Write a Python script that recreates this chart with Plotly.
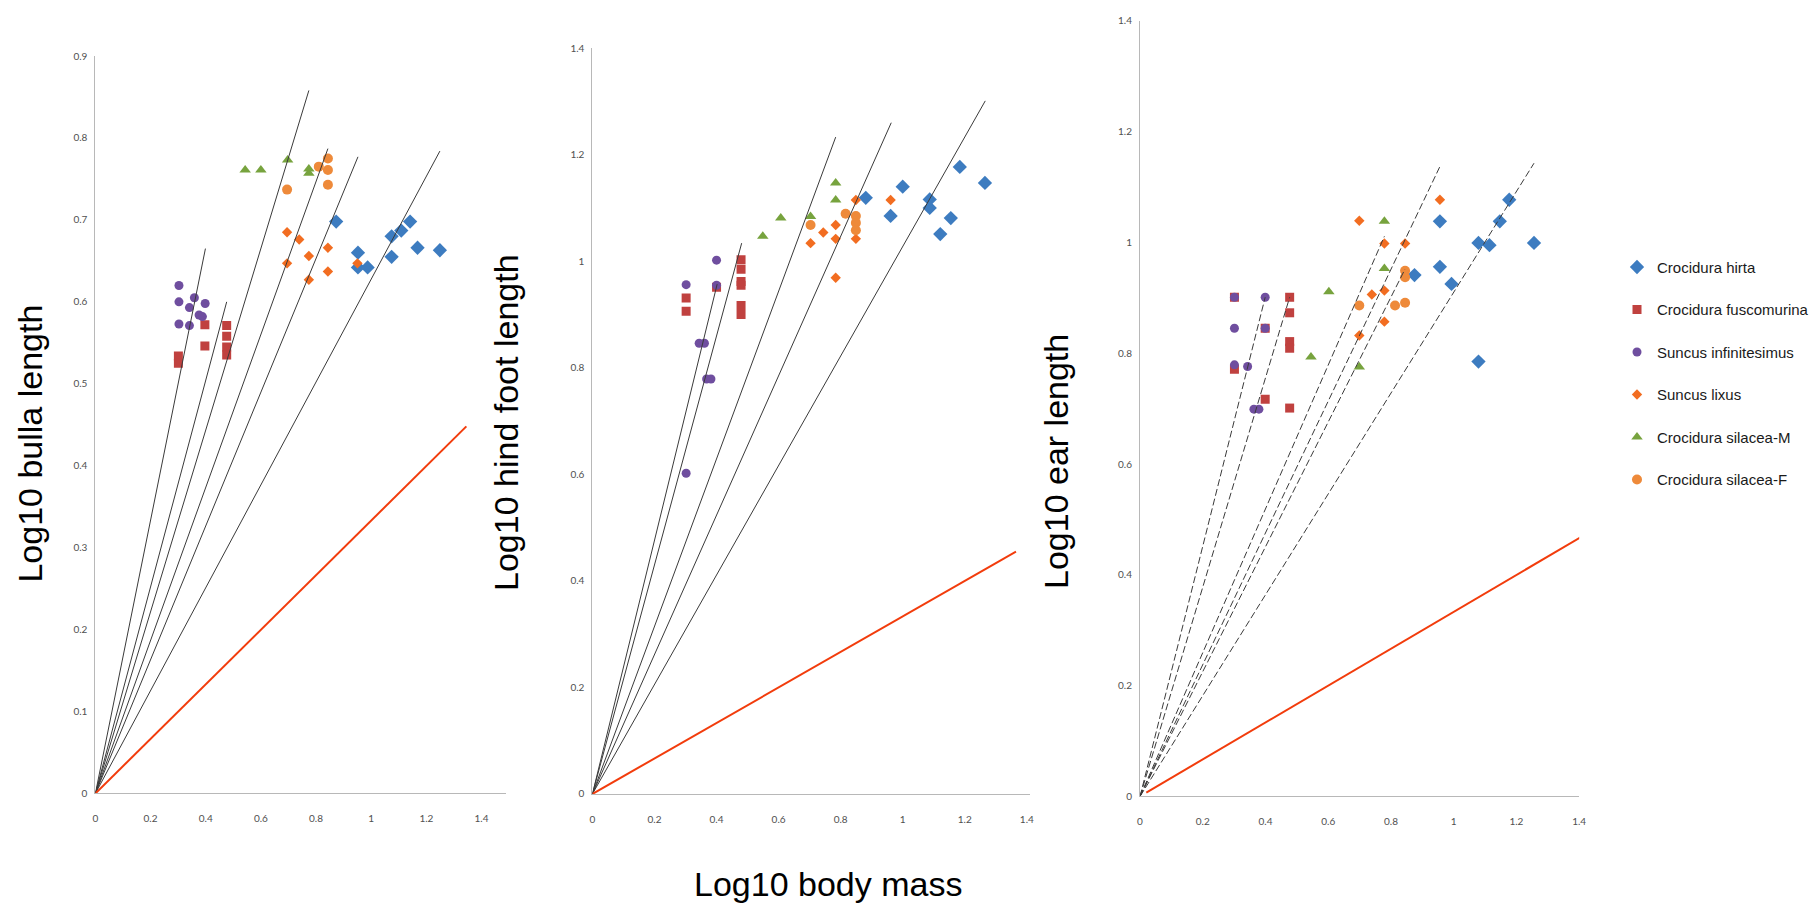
import plotly.graph_objects as go

# ---------------- data ----------------
SPECIES = [
    "Crocidura hirta",
    "Crocidura fuscomurina",
    "Suncus infinitesimus",
    "Suncus lixus",
    "Crocidura silacea-M",
    "Crocidura silacea-F",
]

# Panel 1: log10 bulla length vs log10 body mass
BULLA_HIRTA_X = [0.873, 0.952, 0.952, 0.987, 1.074, 1.074, 1.109, 1.141, 1.168, 1.249]
BULLA_HIRTA_Y = [0.698, 0.660, 0.642, 0.642, 0.680, 0.655, 0.687, 0.698, 0.666, 0.663]
BULLA_FUSCO_X = [0.301, 0.301, 0.397, 0.397, 0.476, 0.476, 0.476, 0.476]
BULLA_FUSCO_Y = [0.534, 0.525, 0.572, 0.546, 0.571, 0.558, 0.545, 0.535]
BULLA_INFIN_X = [0.303, 0.303, 0.303, 0.341, 0.341, 0.359, 0.376, 0.398, 0.388]
BULLA_INFIN_Y = [0.620, 0.600, 0.573, 0.593, 0.571, 0.605, 0.584, 0.598, 0.582]
BULLA_LIXUS_X = [0.695, 0.739, 0.695, 0.774, 0.774, 0.843, 0.843, 0.950]
BULLA_LIXUS_Y = [0.685, 0.676, 0.647, 0.656, 0.627, 0.666, 0.637, 0.647]
BULLA_SILM_X = [0.543, 0.600, 0.697, 0.774, 0.774]
BULLA_SILM_Y = [0.761, 0.761, 0.773, 0.757, 0.762]
BULLA_SILF_X = [0.695, 0.810, 0.843, 0.843, 0.843]
BULLA_SILF_Y = [0.737, 0.765, 0.775, 0.761, 0.743]
BULLA_FIT_END_X = [0.399, 0.476, 0.774, 0.843, 0.952, 1.249]
BULLA_FIT_END_Y = [0.665, 0.600, 0.858, 0.787, 0.777, 0.784]
BULLA_ISO_X = [0.0, 1.345]
BULLA_ISO_Y = [0.0, 0.448]

# Panel 2: log10 hind foot length vs log10 body mass
FOOT_HIRTA_X = [0.881, 0.961, 1.000, 1.087, 1.087, 1.121, 1.155, 1.184, 1.265]
FOOT_HIRTA_Y = [1.119, 1.085, 1.140, 1.116, 1.100, 1.051, 1.081, 1.177, 1.147]
FOOT_FUSCO_X = [0.302, 0.302, 0.400, 0.479, 0.479, 0.479, 0.479, 0.479, 0.479]
FOOT_FUSCO_Y = [0.931, 0.906, 0.951, 1.003, 0.985, 0.962, 0.955, 0.917, 0.900]
FOOT_INFIN_X = [0.302, 0.400, 0.400, 0.344, 0.361, 0.368, 0.382, 0.302]
FOOT_INFIN_Y = [0.956, 1.002, 0.955, 0.846, 0.846, 0.779, 0.779, 0.602]
FOOT_LIXUS_X = [0.703, 0.744, 0.784, 0.784, 0.784, 0.849, 0.849, 0.961]
FOOT_LIXUS_Y = [1.034, 1.054, 1.068, 1.042, 0.969, 1.115, 1.042, 1.115]
FOOT_SILM_X = [0.549, 0.607, 0.703, 0.784, 0.784]
FOOT_SILM_Y = [1.047, 1.081, 1.084, 1.147, 1.115]
FOOT_SILF_X = [0.703, 0.816, 0.849, 0.849, 0.849]
FOOT_SILF_Y = [1.068, 1.089, 1.085, 1.072, 1.058]
FOOT_FIT_END_X = [0.402, 0.481, 0.784, 0.963, 1.266]
FOOT_FIT_END_Y = [0.957, 1.034, 1.233, 1.260, 1.301]
FOOT_ISO_X = [0.0, 1.365]
FOOT_ISO_Y = [0.0, 0.455]

# Panel 3: log10 ear length vs log10 body mass
EAR_HIRTA_X = [0.875, 0.956, 0.956, 0.993, 1.079, 1.079, 1.114, 1.147, 1.177, 1.256]
EAR_HIRTA_Y = [0.941, 1.038, 0.956, 0.925, 0.999, 0.785, 0.995, 1.038, 1.077, 0.999]
EAR_FUSCO_X = [0.301, 0.301, 0.399, 0.399, 0.477, 0.477, 0.477, 0.477, 0.477]
EAR_FUSCO_Y = [0.901, 0.771, 0.845, 0.717, 0.901, 0.873, 0.821, 0.809, 0.701]
EAR_INFIN_X = [0.301, 0.301, 0.301, 0.343, 0.399, 0.399, 0.363, 0.379]
EAR_INFIN_Y = [0.901, 0.845, 0.779, 0.776, 0.901, 0.845, 0.699, 0.699]
EAR_LIXUS_X = [0.699, 0.699, 0.739, 0.779, 0.779, 0.779, 0.845, 0.956]
EAR_LIXUS_Y = [1.039, 0.832, 0.906, 0.998, 0.913, 0.857, 0.998, 1.077]
EAR_SILM_X = [0.545, 0.602, 0.699, 0.779, 0.779]
EAR_SILM_Y = [0.793, 0.911, 0.775, 1.038, 0.953]
EAR_SILF_X = [0.699, 0.813, 0.845, 0.845, 0.845]
EAR_SILF_Y = [0.886, 0.886, 0.949, 0.937, 0.891]
EAR_FIT_END_X = [0.399, 0.477, 0.779, 0.956, 0.845, 1.256]
EAR_FIT_END_Y = [0.901, 0.901, 1.011, 1.137, 0.952, 1.143]
EAR_ISO_X = [0.02, 1.423]
EAR_ISO_Y = [0.007, 0.474]

X_TICKS = [0, 0.2, 0.4, 0.6, 0.8, 1, 1.2, 1.4]
BULLA_Y_TICKS = [0, 0.1, 0.2, 0.3, 0.4, 0.5, 0.6, 0.7, 0.8, 0.9]
FOOT_Y_TICKS = [0, 0.2, 0.4, 0.6, 0.8, 1, 1.2, 1.4]
EAR_Y_TICKS = [0, 0.2, 0.4, 0.6, 0.8, 1, 1.2, 1.4]

# ---------------- styling ----------------
W, H = 1814, 911
STYLE = {
    "Crocidura hirta": dict(symbol="diamond", color="#3d7cc0", size=11),
    "Crocidura fuscomurina": dict(symbol="square", color="#c0413f", size=9),
    "Suncus infinitesimus": dict(symbol="circle", color="#6f4e9f", size=9),
    "Suncus lixus": dict(symbol="diamond", color="#f26d21", size=8),
    "Crocidura silacea-M": dict(symbol="triangle-up", color="#77a33e", size=10),
    "Crocidura silacea-F": dict(symbol="circle", color="#ee8a3a", size=10),
}

panels = [
    dict(
        xa="x", ya="y",
        series=[(BULLA_HIRTA_X, BULLA_HIRTA_Y), (BULLA_FUSCO_X, BULLA_FUSCO_Y),
                (BULLA_INFIN_X, BULLA_INFIN_Y), (BULLA_LIXUS_X, BULLA_LIXUS_Y),
                (BULLA_SILM_X, BULLA_SILM_Y), (BULLA_SILF_X, BULLA_SILF_Y)],
        fit=(BULLA_FIT_END_X, BULLA_FIT_END_Y), iso=(BULLA_ISO_X, BULLA_ISO_Y),
        dash="solid",
    ),
    dict(
        xa="x2", ya="y2",
        series=[(FOOT_HIRTA_X, FOOT_HIRTA_Y), (FOOT_FUSCO_X, FOOT_FUSCO_Y),
                (FOOT_INFIN_X, FOOT_INFIN_Y), (FOOT_LIXUS_X, FOOT_LIXUS_Y),
                (FOOT_SILM_X, FOOT_SILM_Y), (FOOT_SILF_X, FOOT_SILF_Y)],
        fit=(FOOT_FIT_END_X, FOOT_FIT_END_Y), iso=(FOOT_ISO_X, FOOT_ISO_Y),
        dash="solid",
    ),
    dict(
        xa="x3", ya="y3",
        series=[(EAR_HIRTA_X, EAR_HIRTA_Y), (EAR_FUSCO_X, EAR_FUSCO_Y),
                (EAR_INFIN_X, EAR_INFIN_Y), (EAR_LIXUS_X, EAR_LIXUS_Y),
                (EAR_SILM_X, EAR_SILM_Y), (EAR_SILF_X, EAR_SILF_Y)],
        fit=(EAR_FIT_END_X, EAR_FIT_END_Y), iso=(EAR_ISO_X, EAR_ISO_Y),
        dash="7px,3px",
    ),
]

fig = go.Figure()
for pi, p in enumerate(panels):
    for name, (xs, ys) in zip(SPECIES, p["series"]):
        st = STYLE[name]
        fig.add_trace(go.Scatter(
            x=xs, y=ys, mode="markers", name=name,
            legendgroup=name, showlegend=(pi == 0),
            marker=dict(symbol=st["symbol"], color=st["color"], size=st["size"],
                        line=dict(width=0)),
            xaxis=p["xa"], yaxis=p["ya"],
        ))
    # species regression lines through the origin
    for ex, ey in zip(*p["fit"]):
        fig.add_trace(go.Scatter(
            x=[0, ex], y=[0, ey], mode="lines", showlegend=False,
            line=dict(color="#3a3a3a", width=1, dash=p["dash"]),
            xaxis=p["xa"], yaxis=p["ya"], hoverinfo="skip",
        ))
    # isometric reference line
    ix, iy = p["iso"]
    fig.add_trace(go.Scatter(
        x=ix, y=iy, mode="lines", showlegend=False,
        line=dict(color="#f23c0c", width=2),
        xaxis=p["xa"], yaxis=p["ya"], hoverinfo="skip",
    ))

tick_font = dict(family="Lato, Noto Sans, sans-serif", size=10, color="#505050")


def xaxis(left_px, right_px, rng, anchor):
    return dict(
        domain=[left_px / W, right_px / W], range=rng, anchor=anchor,
        showgrid=False, zeroline=False, showline=True, linecolor="#b8b8b8",
        linewidth=1, tickvals=X_TICKS, ticks="", tickfont=tick_font,
        ticklabelstandoff=16, fixedrange=True,
    )


def yaxis(bottom_px, top_px, rng, ticks, anchor):
    return dict(
        domain=[(H - bottom_px) / H, (H - top_px) / H], range=rng, anchor=anchor,
        showgrid=False, zeroline=False, showline=True, linecolor="#b8b8b8",
        linewidth=1, tickvals=ticks, ticks="", tickfont=tick_font,
        ticklabelstandoff=5, fixedrange=True,
    )


title_font = dict(family="Liberation Sans, Arial, sans-serif", size=34, color="#000000")

fig.update_layout(
    width=W, height=H, autosize=False,
    margin=dict(l=0, r=0, t=0, b=0),
    paper_bgcolor="white", plot_bgcolor="white",
    xaxis=xaxis(94.3, 513, [0, 1.487], "y"),
    yaxis=yaxis(798, 50.7, [0, 0.9], BULLA_Y_TICKS, "x"),
    xaxis2=xaxis(601.7, 1048, [0, 1.409], "y2"),
    yaxis2=yaxis(798.5, 42.7, [0, 1.4], FOOT_Y_TICKS, "x2"),
    xaxis3=xaxis(1160.7, 1609, [0, 1.4], "y3"),
    yaxis3=yaxis(801, 15, [0, 1.4], EAR_Y_TICKS, "x3"),
    legend=dict(
        x=1648 / W, y=(H - 248) / H, xanchor="left", yanchor="top",
        font=dict(family="Liberation Sans Narrow, Arial Narrow, Liberation Sans, sans-serif",
                  size=15, color="#1a1a1a"),
        tracegroupgap=20, itemwidth=30, bgcolor="rgba(0,0,0,0)",
    ),
    annotations=[
        dict(text="Log10 bulla length", x=28 / W, y=(H - 443) / H, xref="paper", yref="paper",
             textangle=-90, showarrow=False, font=title_font, xanchor="center", yanchor="middle"),
        dict(text="Log10 hind foot length", x=514 / W, y=(H - 422) / H, xref="paper", yref="paper",
             textangle=-90, showarrow=False, font=title_font, xanchor="center", yanchor="middle"),
        dict(text="Log10 ear length", x=1075 / W, y=(H - 462) / H, xref="paper", yref="paper",
             textangle=-90, showarrow=False, font=title_font, xanchor="center", yanchor="middle"),
        dict(text="Log10 body mass", x=842 / W, y=(H - 890) / H, xref="paper", yref="paper",
             showarrow=False, font=dict(family="Liberation Sans, Arial, sans-serif", size=34, color="#000000"),
             xanchor="center", yanchor="middle"),
    ],
)

fig.write_html("out.html")
